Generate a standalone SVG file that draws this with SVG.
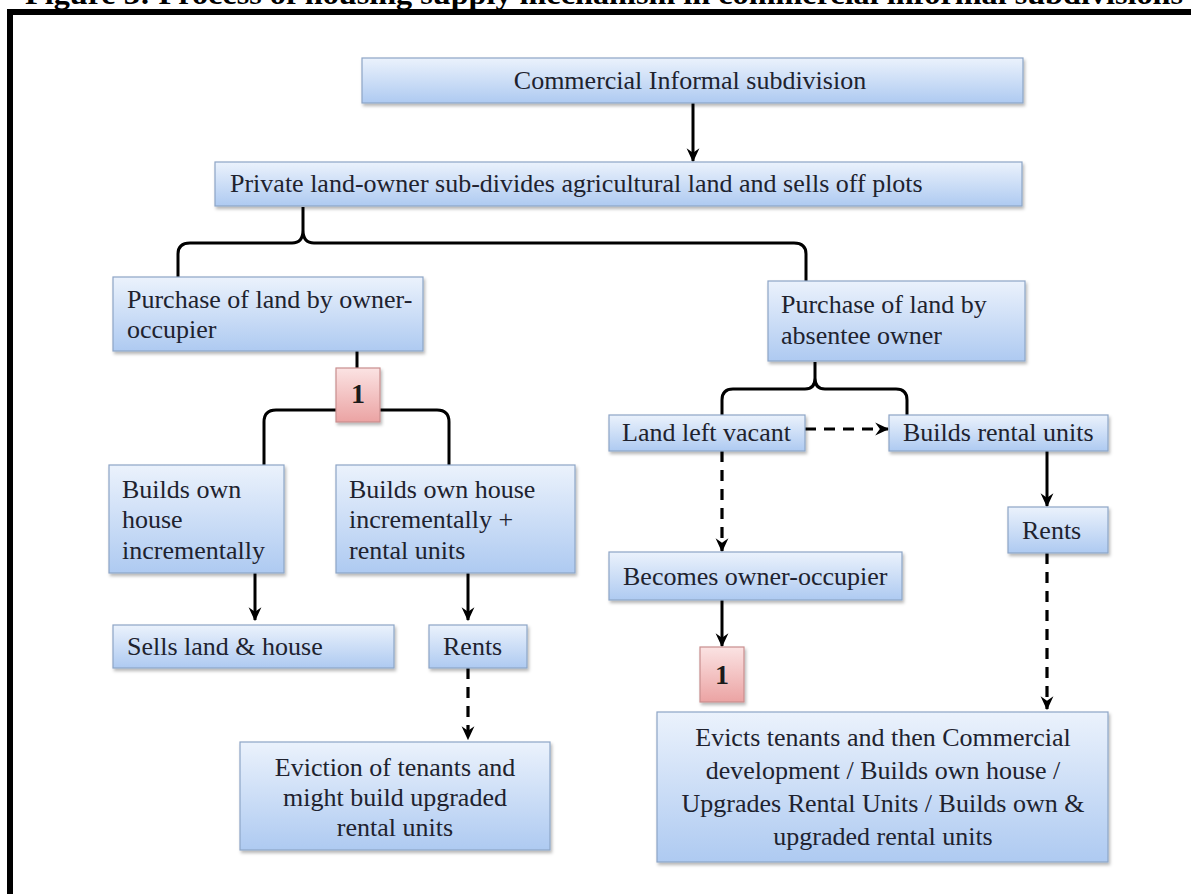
<svg xmlns="http://www.w3.org/2000/svg" width="1191" height="894" viewBox="0 0 1191 894">
<defs>
<linearGradient id="gBlue" x1="0" y1="0" x2="0" y2="1">
<stop offset="0" stop-color="#ebf2fc"/>
<stop offset="1" stop-color="#aecaf1"/>
</linearGradient>
<linearGradient id="gPink" x1="0" y1="0" x2="0" y2="1">
<stop offset="0" stop-color="#fbe3e3"/>
<stop offset="1" stop-color="#eba3a3"/>
</linearGradient>
<marker id="ah" markerUnits="userSpaceOnUse" markerWidth="14" markerHeight="14" viewBox="0 0 12 12" refX="11" refY="6" orient="auto">
<path d="M0,0.5 L12,6 L0,11.5 L4,6 Z" fill="#000"/>
</marker>
<filter id="sh" x="-5%" y="-10%" width="115%" height="130%">
<feDropShadow dx="1.5" dy="2.5" stdDeviation="1.5" flood-color="#000" flood-opacity="0.28"/>
</filter>
</defs>
<style>
.box{fill:url(#gBlue);stroke:#8da5c6;stroke-width:1.2;filter:url(#sh)}
.one{fill:url(#gPink);stroke:#c98e8e;stroke-width:1.2;filter:url(#sh)}
.t{font-family:"Liberation Serif","Times New Roman",serif;font-size:26px;fill:#20222e}
.c{text-anchor:middle}
.n1{font-family:"Liberation Serif","Times New Roman",serif;font-size:28px;font-weight:bold;fill:#1a1a1a;text-anchor:middle}
.ln{fill:none;stroke:#000;stroke-width:3}
.ds{fill:none;stroke:#000;stroke-width:3.2;stroke-dasharray:11 8}
</style>
<rect x="0" y="0" width="1191" height="894" fill="#fff"/>
<text x="25" y="4" font-family="Liberation Serif,serif" font-size="30" font-weight="bold" fill="#000" textLength="1158" lengthAdjust="spacingAndGlyphs">Figure 3: Process of housing supply mechanism in commercial informal subdivisions</text>
<rect x="7" y="9" width="1184" height="6" fill="#000"/>
<rect x="7" y="9" width="6" height="885" fill="#000"/>

<g id="connectors">
<path class="ln" d="M693,103 V161" marker-end="url(#ah)"/>
<path class="ln" d="M178,277 V254 Q178,243 190,243 H292 Q303,243 303,230 V207 M303,230 Q303,243 314,243 H794 Q806,243 806,254 V281"/>
<path class="ln" d="M357,351 V368"/>
<path class="ln" d="M336,410 H276 Q264,410 264,422 V465 M380,410 H437 Q449,410 449,422 V465"/>
<path class="ln" d="M722,415 V400 Q722,389 733,389 H805 Q815,389 815,378 V362 M815,378 Q815,389 825,389 H896 Q907,389 907,400 V415"/>
<path class="ln" d="M255,573 V620" marker-end="url(#ah)"/>
<path class="ln" d="M468,573 V620" marker-end="url(#ah)"/>
<path class="ds" d="M468,668 V739" marker-end="url(#ah)"/>
<path class="ds" d="M805,429 H888" marker-end="url(#ah)"/>
<path class="ln" d="M1047,451 V506" marker-end="url(#ah)"/>
<path class="ds" d="M1047,553 V709" marker-end="url(#ah)"/>
<path class="ds" d="M722,451 V551" marker-end="url(#ah)"/>
<path class="ln" d="M722,600 V646" marker-end="url(#ah)"/>
</g>

<g id="n-commercial">
<rect class="box" x="362" y="58" width="661" height="45"/>
<text class="t c" x="690" y="89">Commercial Informal subdivision</text>
</g>
<g id="n-private">
<rect class="box" x="215" y="162" width="807" height="44"/>
<text class="t" x="230" y="192">Private land-owner sub-divides agricultural land and sells off plots</text>
</g>
<g id="n-owner">
<rect class="box" x="113" y="277" width="310" height="74"/>
<text class="t" x="127" y="308">Purchase of land by owner-</text>
<text class="t" x="127" y="338">occupier</text>
</g>
<g id="n-absentee">
<rect class="box" x="768" y="281" width="257" height="80"/>
<text class="t" x="781" y="313">Purchase of land by</text>
<text class="t" x="781" y="344">absentee owner</text>
</g>
<g id="n-one-a">
<rect class="one" x="336" y="368" width="44" height="54"/>
<text class="n1" x="358" y="403">1</text>
</g>
<g id="n-builds-own">
<rect class="box" x="109" y="465" width="175" height="108"/>
<text class="t" x="122" y="498">Builds own</text>
<text class="t" x="122" y="528">house</text>
<text class="t" x="122" y="559">incrementally</text>
</g>
<g id="n-builds-rental">
<rect class="box" x="336" y="465" width="239" height="108"/>
<text class="t" x="349" y="498">Builds own house</text>
<text class="t" x="349" y="528">incrementally +</text>
<text class="t" x="349" y="559">rental units</text>
</g>
<g id="n-sells">
<rect class="box" x="113" y="625" width="281" height="43"/>
<text class="t" x="127" y="655">Sells land &amp; house</text>
</g>
<g id="n-rents-a">
<rect class="box" x="429" y="625" width="98" height="43"/>
<text class="t" x="443" y="655">Rents</text>
</g>
<g id="n-eviction">
<rect class="box" x="240" y="742" width="310" height="108"/>
<text class="t c" x="395" y="776">Eviction of tenants and</text>
<text class="t c" x="395" y="806">might build upgraded</text>
<text class="t c" x="395" y="836">rental units</text>
</g>
<g id="n-vacant">
<rect class="box" x="609" y="415" width="196" height="36"/>
<text class="t" x="622" y="441">Land left vacant</text>
</g>
<g id="n-builds-units">
<rect class="box" x="889" y="415" width="219" height="36"/>
<text class="t" x="903" y="441">Builds rental units</text>
</g>
<g id="n-rents-b">
<rect class="box" x="1008" y="507" width="100" height="46"/>
<text class="t" x="1022" y="539">Rents</text>
</g>
<g id="n-becomes">
<rect class="box" x="609" y="552" width="293" height="48"/>
<text class="t" x="623" y="585">Becomes owner-occupier</text>
</g>
<g id="n-one-b">
<rect class="one" x="700" y="647" width="44" height="55"/>
<text class="n1" x="722" y="684">1</text>
</g>
<g id="n-evicts">
<rect class="box" x="657" y="712" width="451" height="150"/>
<text class="t c" x="883" y="746">Evicts tenants and then Commercial</text>
<text class="t c" x="883" y="779">development / Builds own house /</text>
<text class="t c" x="883" y="812">Upgrades Rental Units / Builds own &amp;</text>
<text class="t c" x="883" y="845">upgraded rental units</text>
</g>
</svg>
